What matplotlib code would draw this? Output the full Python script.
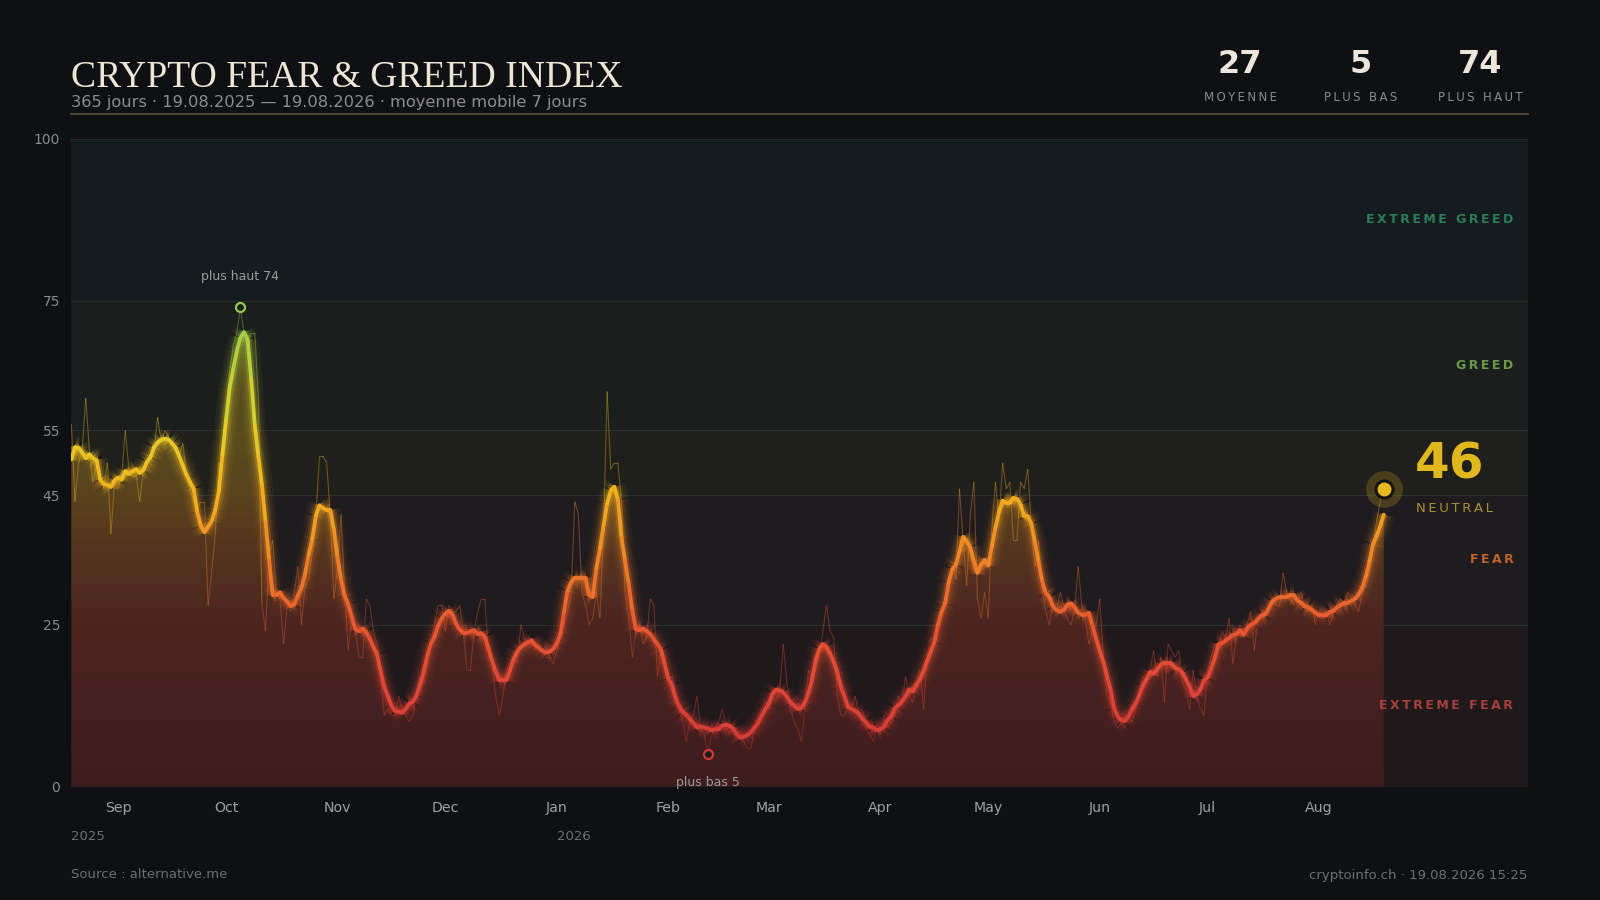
import numpy as np
import pandas as pd
import matplotlib
matplotlib.use("Agg")
import matplotlib.pyplot as plt
import matplotlib.dates as mdates
from matplotlib.collections import LineCollection
from matplotlib.colors import LinearSegmentedColormap, Normalize
from matplotlib.lines import Line2D

# ---------------- data ----------------
start_date = "2025-08-19"
fear_greed = [
    56, 44, 50, 52, 60, 52, 47, 50, 48, 46,
    50, 39, 47, 46, 48, 55, 49, 48, 48, 44,
    49, 50, 51, 52, 57, 53, 55, 54, 53, 52,
    51, 53, 48, 46, 44, 43, 44, 44, 28, 33,
    39, 50, 49, 56, 64, 68, 70, 74, 70, 69,
    70, 70, 60, 28, 24, 36, 38, 30, 29, 22,
    28, 27, 30, 34, 25, 31, 32, 36, 42, 51,
    51, 50, 42, 29, 34, 42, 30, 21, 26, 24,
    20, 20, 29, 28, 24, 22, 17, 11, 12, 11,
    11, 14, 12, 11, 10, 11, 15, 17, 16, 19,
    22, 25, 28, 28, 24, 28, 27, 27, 28, 24,
    18, 18, 24, 27, 29, 29, 20, 19, 14, 11,
    14, 18, 19, 20, 19, 25, 23, 22, 23, 22,
    22, 21, 20, 20, 19, 21, 23, 25, 27, 30,
    44, 42, 30, 28, 25, 26, 30, 26, 40, 61,
    49, 50, 50, 44, 30, 26, 20, 24, 25, 22,
    23, 29, 28, 17, 21, 19, 17, 17, 14, 12,
    10, 7, 10, 11, 14, 9, 8, 5, 8, 9,
    10, 12, 10, 8, 9, 9, 8, 7, 6, 6,
    9, 11, 12, 13, 12, 14, 13, 15, 22, 16,
    12, 10, 9, 7, 12, 18, 17, 18, 20, 24,
    28, 24, 23, 14, 11, 11, 13, 12, 14, 11,
    12, 9, 8, 7, 9, 8, 11, 9, 10, 11,
    14, 13, 17, 14, 13, 16, 18, 12, 20, 23,
    23, 24, 26, 28, 31, 34, 32, 46, 38, 31,
    42, 47, 29, 26, 30, 26, 40, 47, 41, 50,
    46, 47, 38, 38, 47, 46, 49, 40, 34, 38,
    30, 27, 25, 28, 27, 30, 28, 26, 25, 27,
    34, 28, 26, 22, 24, 25, 29, 20, 14, 13,
    10, 9, 10, 9, 11, 10, 12, 15, 17, 16,
    18, 21, 17, 20, 13, 22, 21, 20, 21, 16,
    15, 12, 18, 14, 12, 11, 18, 20, 22, 21,
    24, 23, 26, 19, 23, 25, 24, 25, 27, 21,
    26, 27, 27, 28, 29, 28, 28, 33, 30, 29,
    28, 29, 30, 28, 27, 28, 25, 27, 26, 27,
    25, 27, 28, 29, 28, 30, 29, 28, 27, 30,
    31, 33, 37, 41, 44, 46,
]
ma_window = 7
y_ticks = [0, 25, 45, 55, 75, 100]
zone_edges = [0, 25, 45, 55, 75, 100]
zone_names = ["EXTREME FEAR", "FEAR", "NEUTRAL", "GREED", "EXTREME GREED"]
stat_names = ["MOYENNE", "PLUS BAS", "PLUS HAUT"]
title_text = "CRYPTO FEAR & GREED INDEX"
subtitle_text = "365 jours · 19.08.2025 — 19.08.2026 · moyenne mobile 7 jours"
source_text = "Source : alternative.me"
credit_text = "cryptoinfo.ch · 19.08.2026 15:25"
high_word = "plus haut"
low_word = "plus bas"

# ---------------- style ----------------
W, H = 1600, 900
BG = "#0e1013"
zone_bg = ["#1f191c", "#1f1b1e", "#1f1f1b", "#1a1f1e", "#141c1f"]
zone_txt = ["#a8403a", "#c0622c", "#b09a30", "#6b9a4a", "#2a7d55"]
line_cmap = LinearSegmentedColormap.from_list("fgline", [
    (0.00, "#cc3333"), (0.15, "#de4536"), (0.25, "#e6582f"), (0.35, "#ee8228"),
    (0.45, "#f2b01e"), (0.55, "#e6cc2a"), (0.65, "#bcd03a"), (0.75, "#8cc850"),
    (1.00, "#3aa060")])
fill_cmap = LinearSegmentedColormap.from_list("fgfill", [
    (0.00, "#3e1c1e"), (0.25, "#4b2520"), (0.35, "#53321f"), (0.45, "#59431c"),
    (0.55, "#5a4c1d"), (0.75, "#4b4d22"), (1.00, "#35472a")])
norm = Normalize(0, 100)
right_pad_days = 40
SANS = ["DejaVu Sans"]


def spaced(s):
    return "\u2009".join(s)


def fx(px):
    return px / W


def fy(py):
    return 1 - py / H


fig = plt.figure(figsize=(W / 100, H / 100), dpi=100, facecolor=BG)
ax = fig.add_axes([fx(71.4), fy(786.7), (1527.6 - 71.4) / W, (786.7 - 138.8) / H])
ax.set_facecolor("none")
for s in ax.spines.values():
    s.set_visible(False)

vals = np.array(fear_greed, dtype=float)
dates = pd.date_range(start_date, periods=len(vals), freq="D")
xn = mdates.date2num(dates)
ma = pd.Series(vals).rolling(ma_window, center=True, min_periods=1).mean().to_numpy()

# zones
for i in range(len(zone_names)):
    ax.axhspan(zone_edges[i], zone_edges[i + 1], color=zone_bg[i], zorder=0, lw=0)
for e in zone_edges[1:]:
    ax.axhline(e, color="#2a2f2f", lw=0.8, zorder=1)

# gradient fill under moving average
poly = ax.fill_between(xn, 0, ma, facecolor="none", edgecolor="none", zorder=2)
grad = np.linspace(0, 100, 256).reshape(-1, 1)
im = ax.imshow(grad, cmap=fill_cmap, norm=norm, origin="lower", aspect="auto",
               extent=[xn[0], xn[-1], 0, 100], zorder=2, interpolation="bilinear")
im.set_clip_path(poly.get_paths()[0], transform=ax.transData)

# raw daily line
pts_r = np.column_stack([xn, vals])
segs_r = np.stack([pts_r[:-1], pts_r[1:]], axis=1)
cols_r = line_cmap(norm((vals[:-1] + vals[1:]) / 2))
cols_r[:, 3] = 0.36
ax.add_collection(LineCollection(segs_r, colors=cols_r, linewidths=0.8, zorder=3))

# moving average with glow
pts = np.column_stack([xn, ma])
segs = np.stack([pts[:-1], pts[1:]], axis=1)
cols = line_cmap(norm((ma[:-1] + ma[1:]) / 2))
for lw, a in [(16, 0.05), (12, 0.08), (8.5, 0.13), (5.5, 0.26)]:
    c = cols.copy()
    c[:, 3] = a
    ax.add_collection(LineCollection(segs, colors=c, linewidths=lw, capstyle="butt",
                                     joinstyle="round", zorder=4))
ax.add_collection(LineCollection(segs, colors=cols, linewidths=2.7, capstyle="round",
                                 joinstyle="round", zorder=5))

# high / low markers
i_hi, i_lo = int(np.argmax(vals)), int(np.argmin(vals))
for i, word, dy in [(i_hi, high_word, 22), (i_lo, low_word, -20)]:
    ax.scatter([xn[i]], [vals[i]], s=42, facecolor="#1a1d1d",
               edgecolor=line_cmap(norm(vals[i])), linewidths=1.6, zorder=7)
    ax.annotate(f"{word} {int(vals[i])}", (xn[i], vals[i]), xytext=(0, dy),
                textcoords="offset points", ha="center", va="center",
                fontsize=9, color="#9a9a9a", family=SANS, zorder=8)

# current value
cur = vals[-1]
zi = min(np.searchsorted(zone_edges, cur, side="right") - 1, len(zone_names) - 1)
ax.scatter([xn[-1]], [cur], s=700, color="#e0b81e", alpha=0.22, lw=0, zorder=6)
ax.scatter([xn[-1]], [cur], s=150, facecolor="#e6b820", edgecolor="#141414",
           linewidths=2.2, zorder=7)
ax.annotate(f"{int(cur)}", (xn[-1], cur), xytext=(22.5, 17.5), textcoords="offset points",
            ha="left", va="center", fontsize=36, fontweight="bold", color="#e0b81e",
            family=SANS, zorder=8)
ax.annotate(spaced(zone_names[zi]), (xn[-1], cur), xytext=(23.5, -14.4),
            textcoords="offset points", ha="left", va="center", fontsize=9.5,
            color="#a8922e", family=SANS, zorder=8)

# zone labels
trans = ax.get_yaxis_transform()
for i, name in enumerate(zone_names):
    if i == zi:
        continue
    mid = (zone_edges[i] + zone_edges[i + 1]) / 2
    ax.text(0.9902, mid, spaced(name), transform=trans, ha="right", va="center",
            fontsize=9, fontweight="bold", color=zone_txt[i], family=SANS, zorder=8)

# axes
ax.set_xlim(xn[0], xn[-1] + right_pad_days)
ax.set_ylim(0, 100)
ax.set_yticks(y_ticks)
ax.set_yticklabels([str(v) for v in y_ticks])
months = pd.date_range(dates[0], dates[-1], freq="MS")
ax.set_xticks(mdates.date2num(months))
ax.xaxis.set_major_formatter(mdates.DateFormatter("%b"))
ax.tick_params(axis="y", length=0, pad=8, labelsize=10, labelcolor="#8a8a8a")
ax.tick_params(axis="x", length=0, pad=10, labelsize=10.2, labelcolor="#a0a0a0")
for lab in ax.get_xticklabels() + ax.get_yticklabels():
    lab.set_family(SANS)

# year labels
xt = ax.get_xaxis_transform()
ax.text(xn[0], -0.0761, str(dates[0].year), transform=xt, ha="left", va="center",
        fontsize=9.5, color="#6e6e6e", family=SANS)
for m in months:
    if m.month == 1:
        ax.text(mdates.date2num(m), -0.0761, str(m.year), transform=xt, ha="left",
                va="center", fontsize=9.5, color="#6e6e6e", family=SANS)

# header
t = fig.text(fx(71.4), fy(87), title_text, fontsize=28, family=["Liberation Serif", "DejaVu Serif"],
             color="#ede6d3", va="baseline", ha="left")
r = fig.canvas.get_renderer()
w = t.get_window_extent(r).width
t.set_fontsize(28 * 551 / w)
fig.text(fx(71.4), fy(107), subtitle_text, fontsize=11.7, color="#8c8c8c",
         va="baseline", ha="left", family=SANS)
fig.add_artist(Line2D([fx(71.4), fx(1527.6)], [fy(114.3), fy(114.3)], color="#4a4434",
                      lw=1.5, transform=fig.transFigure))

stats = [int(round(vals.mean())), int(vals.min()), int(vals.max())]
for cx, val, name in zip([1240, 1360.5, 1480], stats, stat_names):
    fig.text(fx(cx), fy(73.3), str(val), fontsize=23, fontweight="bold", color="#ece6da",
             ha="center", va="baseline", family=SANS)
    fig.text(fx(cx), fy(101), spaced(name), fontsize=8.5, color="#8a8a8a",
             ha="center", va="baseline", family=SANS)

# footer
fig.text(fx(71.4), fy(875), source_text, fontsize=9.5, color="#6e6e6e", ha="left",
         va="center", family=SANS)
fig.text(fx(1527.6), fy(875), credit_text, fontsize=9.5, color="#707070", ha="right",
         va="center", family=SANS)

fig.savefig("out.png", dpi=100, facecolor=BG)
